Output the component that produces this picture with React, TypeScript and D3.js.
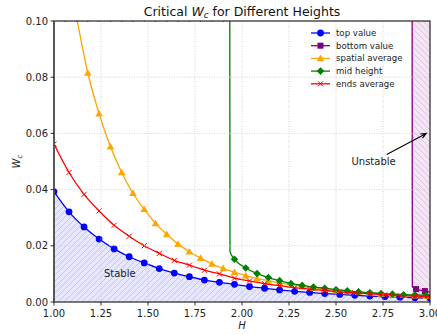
import { useRef, useEffect } from "react";
import * as d3 from "d3";

// H sampling used by the 0.08-spaced series (top value, ends average)
const hCoarse = [
  1.0, 1.08, 1.16, 1.24, 1.32, 1.4, 1.48, 1.56, 1.64, 1.72, 1.8, 1.88, 1.96,
  2.04, 2.12, 2.2, 2.28, 2.36, 2.44, 2.52, 2.6, 2.68, 2.76, 2.84, 2.92, 3.0,
];
const topValue = [
  0.0393, 0.0321, 0.0267, 0.0224, 0.0189, 0.0161, 0.0139, 0.0119, 0.0103,
  0.009, 0.0078, 0.007, 0.0063, 0.0055, 0.0049, 0.0043, 0.0038, 0.0034, 0.003,
  0.0027, 0.0024, 0.0021, 0.0019, 0.0017, 0.0015, 0.0014,
];
const endsAverage = [
  0.0562, 0.0461, 0.0383, 0.0324, 0.0273, 0.0234, 0.02, 0.0173, 0.0148,
  0.0131, 0.0113, 0.01, 0.0085, 0.0075, 0.0065, 0.0058, 0.0051, 0.0046, 0.0041,
  0.0036, 0.0032, 0.0029, 0.0026, 0.0023, 0.0021, 0.0019,
];

// H sampling used by the 0.06-spaced series (spatial average, mid height)
const hFine = [
  1.0, 1.06, 1.12, 1.18, 1.24, 1.3, 1.36, 1.42, 1.48, 1.54, 1.6, 1.66, 1.72,
  1.78, 1.84, 1.9, 1.96, 2.02, 2.08, 2.14, 2.2, 2.26, 2.32, 2.38, 2.44, 2.5,
  2.56, 2.62, 2.68, 2.74, 2.8, 2.86, 2.92, 2.98,
];
const spatialAverage = [
  0.155, 0.124, 0.1015, 0.0815, 0.067, 0.0553, 0.0461, 0.0387, 0.033, 0.028,
  0.0241, 0.0206, 0.0179, 0.0156, 0.0136, 0.012, 0.0106, 0.0094, 0.0084,
  0.0076, 0.0068, 0.0061, 0.0055, 0.005, 0.0046, 0.0042, 0.0038, 0.0035,
  0.0032, 0.0029, 0.0027, 0.0025, 0.0023, 0.0021,
];
const midHeight = [
  0.101, 0.101, 0.101, 0.101, 0.101, 0.101, 0.101, 0.101, 0.101, 0.101, 0.101,
  0.101, 0.101, 0.101, 0.101, 0.101, 0.0152, 0.0121, 0.0101, 0.0087, 0.0076,
  0.0066, 0.0059, 0.0053, 0.0049, 0.0044, 0.004, 0.0036, 0.0033, 0.003,
  0.0028, 0.0026, 0.0025, 0.0024,
];
// extra line samples where mid height drops
const midDropH = [1.935, 1.936, 1.946];
const midDropValue = [0.101, 0.018, 0.0165];

// bottom value only comes into range near H = 2.9
const bottomH = [2.904, 2.906, 2.926, 2.973, 3.0];
const bottomValue = [0.2, 0.0054, 0.0046, 0.0039, 0.0035];
const bottomMarkers = [2, 3];

const unstableFrom = 2.905;
const xTicks = [1.0, 1.25, 1.5, 1.75, 2.0, 2.25, 2.5, 2.75, 3.0];
const yTicks = [0, 0.02, 0.04, 0.06, 0.08, 0.1];

const FONT = "DejaVu Sans, sans-serif";
const W = 437;
const H = 335;
const m = { left: 54, right: 430, top: 21, bottom: 302 };

type Pt = [number, number];
const zip = (xs: number[], ys: number[]): Pt[] => xs.map((x, i) => [x, ys[i]]);

export default function App() {
  const svgRef = useRef<SVGSVGElement>(null);

  useEffect(() => {
    if (!svgRef.current) return;
    const svg = d3.select(svgRef.current);
    svg.selectAll("*").remove();

    const x = d3.scaleLinear().domain([1, 3]).range([m.left, m.right]);
    const y = d3.scaleLinear().domain([0, 0.1]).range([m.bottom, m.top]);

    const defs = svg.append("defs");
    defs
      .append("clipPath")
      .attr("id", "plot-clip")
      .append("rect")
      .attr("x", m.left)
      .attr("y", m.top)
      .attr("width", m.right - m.left)
      .attr("height", m.bottom - m.top);

    // hatch patterns
    const blueHatch = defs
      .append("pattern")
      .attr("id", "hatch-blue")
      .attr("patternUnits", "userSpaceOnUse")
      .attr("width", 6)
      .attr("height", 6);
    blueHatch.append("rect").attr("width", 6).attr("height", 6).attr("fill", "#e6e6ff");
    blueHatch
      .append("path")
      .attr("d", "M-1,1 L1,-1 M0,6 L6,0 M5,7 L7,5")
      .attr("stroke", "#c4c4f4")
      .attr("stroke-width", 0.9);

    const purpleHatch = defs
      .append("pattern")
      .attr("id", "hatch-purple")
      .attr("patternUnits", "userSpaceOnUse")
      .attr("width", 6)
      .attr("height", 6);
    purpleHatch.append("rect").attr("width", 6).attr("height", 6).attr("fill", "#f2e6f2");
    purpleHatch
      .append("path")
      .attr("d", "M-1,5 L1,7 M0,0 L6,6 M5,-1 L7,1")
      .attr("stroke", "#dcc2dc")
      .attr("stroke-width", 0.9);

    const plot = svg.append("g").attr("clip-path", "url(#plot-clip)");

    // shaded regions
    const area = d3
      .area<Pt>()
      .x((d) => x(d[0]))
      .y0(y(0))
      .y1((d) => y(d[1]))
      .curve(d3.curveMonotoneX);
    plot
      .append("path")
      .attr("d", area(zip(hCoarse, topValue)))
      .attr("fill", "url(#hatch-blue)");
    plot
      .append("rect")
      .attr("x", x(unstableFrom))
      .attr("y", m.top)
      .attr("width", x(3) - x(unstableFrom))
      .attr("height", m.bottom - m.top)
      .attr("fill", "url(#hatch-purple)");

    // grid
    const grid = svg.append("g");
    xTicks.forEach((t) =>
      grid
        .append("line")
        .attr("x1", x(t))
        .attr("x2", x(t))
        .attr("y1", m.top)
        .attr("y2", m.bottom)
        .attr("stroke", "#c8c8c8")
        .attr("stroke-width", 0.8)
        .attr("stroke-dasharray", "1,1.5")
    );
    yTicks.forEach((t) =>
      grid
        .append("line")
        .attr("x1", m.left)
        .attr("x2", m.right)
        .attr("y1", y(t))
        .attr("y2", y(t))
        .attr("stroke", "#c8c8c8")
        .attr("stroke-width", 0.8)
        .attr("stroke-dasharray", "1,1.5")
    );

    const line = d3
      .line<Pt>()
      .x((d) => x(d[0]))
      .y((d) => y(d[1]))
      .curve(d3.curveMonotoneX);

    const drawMarker = (
      g: d3.Selection<SVGGElement, unknown, null, undefined>,
      kind: string,
      color: string,
      cx: number,
      cy: number
    ) => {
      if (kind === "circle") {
        g.append("circle").attr("cx", cx).attr("cy", cy).attr("r", 3.4).attr("fill", color);
      } else if (kind === "square") {
        g.append("rect")
          .attr("x", cx - 3)
          .attr("y", cy - 3)
          .attr("width", 6)
          .attr("height", 6)
          .attr("fill", color);
      } else if (kind === "triangle") {
        const s = 3.8;
        g.append("polygon")
          .attr("points", `${cx},${cy - s} ${cx - s},${cy + s * 0.75} ${cx + s},${cy + s * 0.75}`)
          .attr("fill", color);
      } else if (kind === "diamond") {
        const s = 3.8;
        g.append("polygon")
          .attr("points", `${cx},${cy - s} ${cx + s},${cy} ${cx},${cy + s} ${cx - s},${cy}`)
          .attr("fill", color);
      } else {
        const s = 2.6;
        g.append("path")
          .attr("d", `M${cx - s},${cy - s}L${cx + s},${cy + s}M${cx - s},${cy + s}L${cx + s},${cy - s}`)
          .attr("stroke", color)
          .attr("stroke-width", 1);
      }
    };

    const midLine: Pt[] = [
      ...zip(hFine.slice(0, 16), midHeight.slice(0, 16)),
      ...zip(midDropH, midDropValue),
      ...zip(hFine.slice(16), midHeight.slice(16)),
    ];

    const series = [
      { label: "top value", color: "blue", kind: "circle", line: zip(hCoarse, topValue), marks: zip(hCoarse, topValue) },
      {
        label: "bottom value",
        color: "purple",
        kind: "square",
        line: zip(bottomH, bottomValue),
        marks: bottomMarkers.map((i) => [bottomH[i], bottomValue[i]] as Pt),
      },
      { label: "spatial average", color: "orange", kind: "triangle", line: zip(hFine, spatialAverage), marks: zip(hFine, spatialAverage) },
      { label: "mid height", color: "green", kind: "diamond", line: midLine, marks: zip(hFine, midHeight) },
      { label: "ends average", color: "red", kind: "x", line: zip(hCoarse, endsAverage), marks: zip(hCoarse, endsAverage) },
    ];

    series.forEach((s) => {
      plot
        .append("path")
        .attr("d", line(s.line))
        .attr("fill", "none")
        .attr("stroke", s.color)
        .attr("stroke-width", 1.3);
      const mg = plot.append("g");
      s.marks.forEach((p) => drawMarker(mg, s.kind, s.color, x(p[0]), y(p[1])));
    });

    // annotations
    svg
      .append("text")
      .attr("x", x(1.35))
      .attr("y", y(0.01))
      .attr("dy", "0.35em")
      .attr("text-anchor", "middle")
      .attr("font-family", FONT)
      .attr("font-size", 10)
      .attr("fill", "#222")
      .text("Stable");

    const tx = x(2.7);
    const ty = y(0.05);
    svg
      .append("text")
      .attr("x", tx)
      .attr("y", ty)
      .attr("dy", "0.35em")
      .attr("text-anchor", "middle")
      .attr("font-family", FONT)
      .attr("font-size", 10)
      .attr("fill", "#222")
      .text("Unstable");
    const ax = x(2.98);
    const ay = y(0.06);
    const t0 = (ty - 7 - ty) / (ay - ty);
    const sx = tx + t0 * (ax - tx);
    const sy = ty - 7;
    const ang = Math.atan2(ay - sy, ax - sx);
    const hl = 6;
    svg
      .append("path")
      .attr(
        "d",
        `M${sx},${sy}L${ax},${ay}` +
          `M${ax - hl * Math.cos(ang - 0.4)},${ay - hl * Math.sin(ang - 0.4)}L${ax},${ay}` +
          `L${ax - hl * Math.cos(ang + 0.4)},${ay - hl * Math.sin(ang + 0.4)}`
      )
      .attr("fill", "none")
      .attr("stroke", "black")
      .attr("stroke-width", 1.1);

    // spines
    svg
      .append("rect")
      .attr("x", m.left)
      .attr("y", m.top)
      .attr("width", m.right - m.left)
      .attr("height", m.bottom - m.top)
      .attr("fill", "none")
      .attr("stroke", "black")
      .attr("stroke-width", 1);
    svg
      .append("line")
      .attr("x1", m.left)
      .attr("x2", m.left)
      .attr("y1", m.top)
      .attr("y2", m.bottom)
      .attr("stroke", "#555")
      .attr("stroke-width", 1.8);

    // ticks
    const axes = svg.append("g").attr("font-family", FONT).attr("font-size", 10).attr("fill", "#222");
    xTicks.forEach((t) => {
      axes
        .append("line")
        .attr("x1", x(t))
        .attr("x2", x(t))
        .attr("y1", m.bottom)
        .attr("y2", m.bottom + 3.5)
        .attr("stroke", "black")
        .attr("stroke-width", 0.8);
      axes
        .append("text")
        .attr("x", x(t))
        .attr("y", m.bottom + 15)
        .attr("text-anchor", "middle")
        .text(t.toFixed(2));
    });
    yTicks.forEach((t) => {
      axes
        .append("line")
        .attr("x1", m.left - 3.5)
        .attr("x2", m.left)
        .attr("y1", y(t))
        .attr("y2", y(t))
        .attr("stroke", "black")
        .attr("stroke-width", 0.8);
      axes
        .append("text")
        .attr("x", m.left - 6)
        .attr("y", y(t))
        .attr("dy", "0.36em")
        .attr("text-anchor", "end")
        .text(t.toFixed(2));
    });

    // axis labels
    const xl = axes
      .append("text")
      .attr("x", (m.left + m.right) / 2)
      .attr("y", 328.5)
      .attr("text-anchor", "middle")
      .attr("font-style", "italic");
    xl.text("H");

    const yl = axes
      .append("text")
      .attr("transform", `translate(20,${(m.top + m.bottom) / 2}) rotate(-90)`)
      .attr("text-anchor", "middle")
      .attr("font-style", "italic");
    yl.append("tspan").text("W");
    yl.append("tspan").attr("font-size", 7).attr("dy", 2).text("c");

    // title
    const title = svg
      .append("text")
      .attr("x", (m.left + m.right) / 2)
      .attr("y", 15.5)
      .attr("text-anchor", "middle")
      .attr("font-family", FONT)
      .attr("font-size", 12.5)
      .attr("fill", "#111");
    title.append("tspan").text("Critical ");
    title.append("tspan").attr("font-style", "italic").text("W");
    title.append("tspan").attr("font-style", "italic").attr("font-size", 8.8).attr("dy", 2.5).text("c");
    title.append("tspan").attr("dy", -2.5).text(" for Different Heights");

    // legend
    const lg = svg.append("g").attr("font-family", FONT).attr("font-size", 8.6);
    series.forEach((s, i) => {
      const ry = 33 + i * 12.7;
      lg.append("line")
        .attr("x1", 311)
        .attr("x2", 330)
        .attr("y1", ry)
        .attr("y2", ry)
        .attr("stroke", s.color)
        .attr("stroke-width", 1.3);
      drawMarker(lg as any, s.kind, s.color, 320.5, ry);
      lg.append("text")
        .attr("x", 336)
        .attr("y", ry)
        .attr("dy", "0.33em")
        .attr("fill", "#222")
        .text(s.label);
    });
  }, []);

  return (
    <svg
      ref={svgRef}
      width={W}
      height={H}
      style={{ position: "absolute", left: 0, top: 0, background: "white" }}
    />
  );
}
